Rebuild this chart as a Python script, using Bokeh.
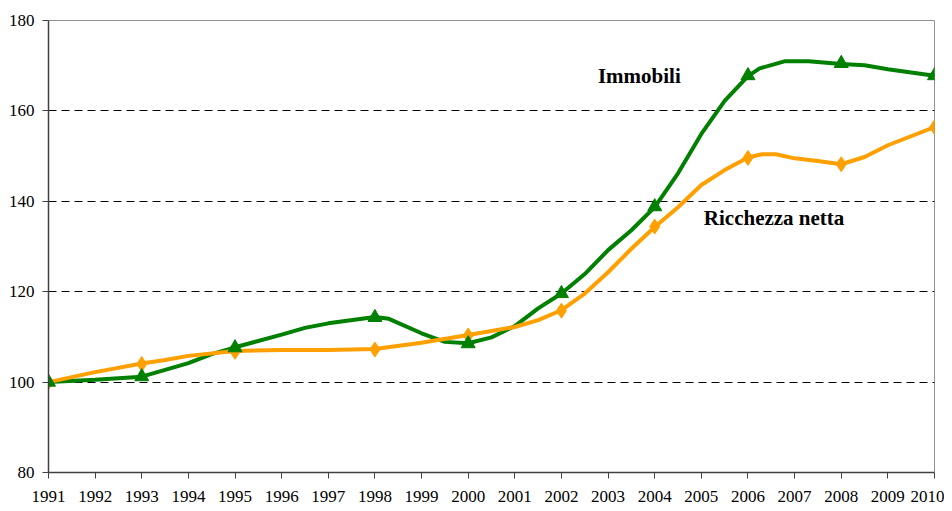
from bokeh.plotting import figure
from bokeh.models import Range1d, FixedTicker, Label
from bokeh.embed import file_html
from bokeh.resources import INLINE

# Immobili (green) - line trace
imm_x = [1991, 1992, 1993, 1994, 1994.5, 1995, 1996, 1996.5, 1997, 1998, 1998.3, 1999, 1999.5,
         2000, 2000.5, 2001, 2001.5, 2002, 2002.5, 2003, 2003.5, 2004, 2004.5, 2005, 2005.5,
         2006, 2006.25, 2006.8, 2007, 2007.3, 2008, 2008.5, 2009, 2010]
imm_y = [100, 100.5, 101.2, 104.2, 106.2, 107.7, 110.5, 112, 113, 114.4, 114.0, 110.8, 108.9,
         108.6, 109.9, 112.4, 116.3, 119.6, 123.9, 129.2, 133.6, 138.7, 146.2, 154.9, 162.2,
         167.7, 169.4, 171, 171, 171, 170.4, 170.1, 169.2, 167.8]
imm_mx = [1991, 1993, 1995, 1998, 2000, 2002, 2004, 2006, 2008, 2010]
imm_my = [100, 101.2, 107.6, 114.3, 108.5, 119.6, 138.8, 167.8, 170.5, 167.8]

# Ricchezza netta (orange) - line trace
ric_x = [1991, 1992, 1993, 1993.5, 1994, 1995, 1996, 1997, 1998, 1999, 2000, 2000.5, 2001,
         2001.5, 2002, 2002.5, 2003, 2003.5, 2004, 2004.5, 2005, 2005.5, 2006, 2006.3, 2006.6,
         2007, 2007.5, 2008, 2008.5, 2009, 2010]
ric_y = [100, 102.2, 104.1, 104.9, 105.8, 106.9, 107.1, 107.1, 107.3, 108.7, 110.4, 111.3, 112.2,
         113.7, 115.9, 119.6, 124.3, 129.5, 134.3, 138.7, 143.6, 146.9, 149.7, 150.4, 150.4,
         149.5, 148.9, 148.2, 149.8, 152.4, 156.4]
ric_mx = [1991, 1993, 1995, 1998, 2000, 2002, 2004, 2006, 2008, 2010]
ric_my = [100, 104, 106.7, 107.2, 110.3, 115.8, 134.4, 149.6, 148.2, 156.4]

years = list(range(1991, 2011))
y_ticks = [80, 100, 120, 140, 160, 180]

GREEN = "#008000"
ORANGE = "#FFA000"
FONT = "Liberation Serif"

p = figure(width=944, height=508, output_backend="svg", toolbar_location=None,
           x_range=Range1d(1991, 2010), y_range=Range1d(80, 180),
           min_border_left=48, min_border_right=10, min_border_top=20, min_border_bottom=36)

p.outline_line_color = "#909090"
p.outline_line_width = 1
p.xgrid.visible = False
p.ygrid.ticker = FixedTicker(ticks=[100, 120, 140, 160])
p.ygrid.grid_line_color = "black"
p.ygrid.grid_line_dash = "8 5"
p.ygrid.grid_line_width = 1

p.xaxis.ticker = FixedTicker(ticks=years)
p.yaxis.ticker = FixedTicker(ticks=y_ticks)
for ax in (p.xaxis[0], p.yaxis[0]):
    ax.axis_line_color = "#404040"
    ax.axis_line_width = 1.5
    ax.major_tick_line_color = "#404040"
    ax.major_tick_out = 6
    ax.major_tick_in = 0
    ax.minor_tick_line_color = None
    ax.major_label_text_font = FONT
    ax.major_label_text_color = "black"
p.xaxis.major_label_text_font_size = "17px"
p.yaxis.major_label_text_font_size = "17px"
p.xaxis.major_label_standoff = 12
p.yaxis.major_label_standoff = 8

p.line(imm_x, imm_y, line_color=GREEN, line_width=4)
p.line(ric_x, ric_y, line_color=ORANGE, line_width=4)
p.scatter(ric_mx, ric_my, marker="diamond", size=15, fill_color=ORANGE, line_color=ORANGE)
p.scatter(imm_mx, imm_my, marker="triangle", size=14, fill_color=GREEN, line_color=GREEN)

p.add_layout(Label(x=2003.67, y=167.7, text="Immobili", text_font=FONT, text_font_size="21px",
                   text_font_style="bold", text_color="black", text_align="center",
                   text_baseline="middle"))
p.add_layout(Label(x=2006.56, y=136.4, text="Ricchezza netta", text_font=FONT, text_font_size="21px",
                   text_font_style="bold", text_color="black", text_align="center",
                   text_baseline="middle"))

open("out.html", "w").write(file_html(p, INLINE))
